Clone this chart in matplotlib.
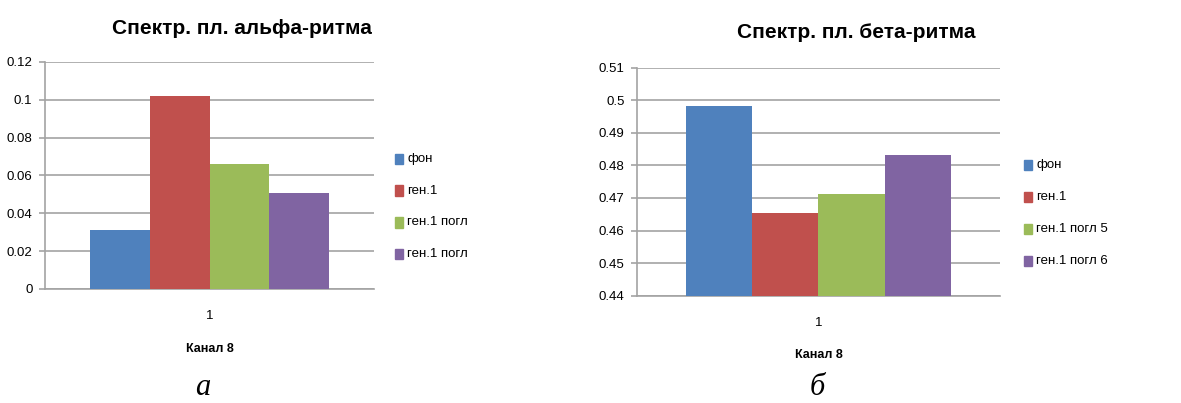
import matplotlib
matplotlib.use("Agg")
from matplotlib import pyplot as plt

# Excel 2007 palette
colors = ["#4F81BD", "#C0504D", "#9BBB59", "#8064A2"]

alpha_labels = ["фон", "ген.1", "ген.1 погл", "ген.1 погл"]
alpha_values = [0.0312, 0.102, 0.066, 0.0507]
alpha_ticks = [0, 0.02, 0.04, 0.06, 0.08, 0.1, 0.12]

beta_labels = ["фон", "ген.1", "ген.1 погл 5", "ген.1 погл 6"]
beta_values = [0.4982, 0.4654, 0.4712, 0.4832]
beta_ticks = [0.44, 0.45, 0.46, 0.47, 0.48, 0.49, 0.5, 0.51]

category = ["1"]
xlabel = "Канал 8"

plt.rcParams['font.family'] = ['Liberation Sans', 'DejaVu Sans']
grid_col = "#A3A3A3"

fig = plt.figure(figsize=(11.81, 4.03), dpi=100)


def draw(ax, values, labels, ticks, title, title_xy, leg_x, leg_y0, leg_dy):
    w = 0.182
    n = len(values)
    for i, (v, lab) in enumerate(zip(values, labels)):
        ax.bar(1 + (i - (n - 1) / 2) * w, v - ticks[0], bottom=ticks[0], width=w,
               color=colors[i], label=lab, zorder=3)
    ax.set_xlim(0.5, 1.5)
    ax.set_ylim(ticks[0], ticks[-1])
    ax.set_yticks(ticks)
    ax.set_yticklabels([f"{t:g}" for t in ticks], fontsize=9.5)
    ax.set_xticks([1])
    ax.set_xticklabels(category, fontsize=9.5)
    ax.tick_params(axis="x", length=0, pad=15)
    ax.tick_params(axis="y", length=4, color=grid_col, width=1.2, pad=5)
    ax.grid(axis="y", color=grid_col, linewidth=1.2, zorder=0)
    for s in ["top", "right"]:
        ax.spines[s].set_visible(False)
    for s in ["left", "bottom"]:
        ax.spines[s].set_color(grid_col)
        ax.spines[s].set_linewidth(1.2)
    ax.set_xlabel(xlabel, fontsize=9, fontweight="bold", labelpad=15)
    fig.text(title_xy[0] / 1181, 1 - title_xy[1] / 403, title, fontsize=15,
             fontweight="bold", ha="center", va="center")
    handles, labs = ax.get_legend_handles_labels()
    # legend entries placed one by one like the Excel legend
    for k, (h, lab) in enumerate(zip(handles, labs)):
        y = leg_y0 - k * leg_dy
        fig.patches.append(plt.Rectangle((leg_x, y - 0.013), 0.0068, 0.026,
                                         transform=fig.transFigure,
                                         color=h.patches[0].get_facecolor(),
                                         figure=fig))
        fig.text(leg_x + 0.0103, y, lab, fontsize=9.5, va="center", ha="left")


ax1 = fig.add_axes([0.0381, 0.2829, 0.2786, 0.5633])
draw(ax1, alpha_values, alpha_labels, alpha_ticks, "Спектр. пл. альфа-ритма",
     (242, 28), 0.3345, 1 - 159 / 403, 31.7 / 403)

ax2 = fig.add_axes([0.5394, 0.2663, 0.3073, 0.5658])
draw(ax2, beta_values, beta_labels, beta_ticks, "Спектр. пл. бета-ритма",
     (856, 33), 0.8670, 1 - 165 / 403, 32 / 403)

fig.text(203 / 1181, 0.003, "а", fontsize=22, style="italic",
         family=["Liberation Serif", "DejaVu Serif"], ha="center", va="bottom")
fig.text(817 / 1181, 0.003, "б", fontsize=22, style="italic",
         family=["Liberation Serif", "DejaVu Serif"], ha="center", va="bottom")

fig.savefig("out.png", dpi=100)
